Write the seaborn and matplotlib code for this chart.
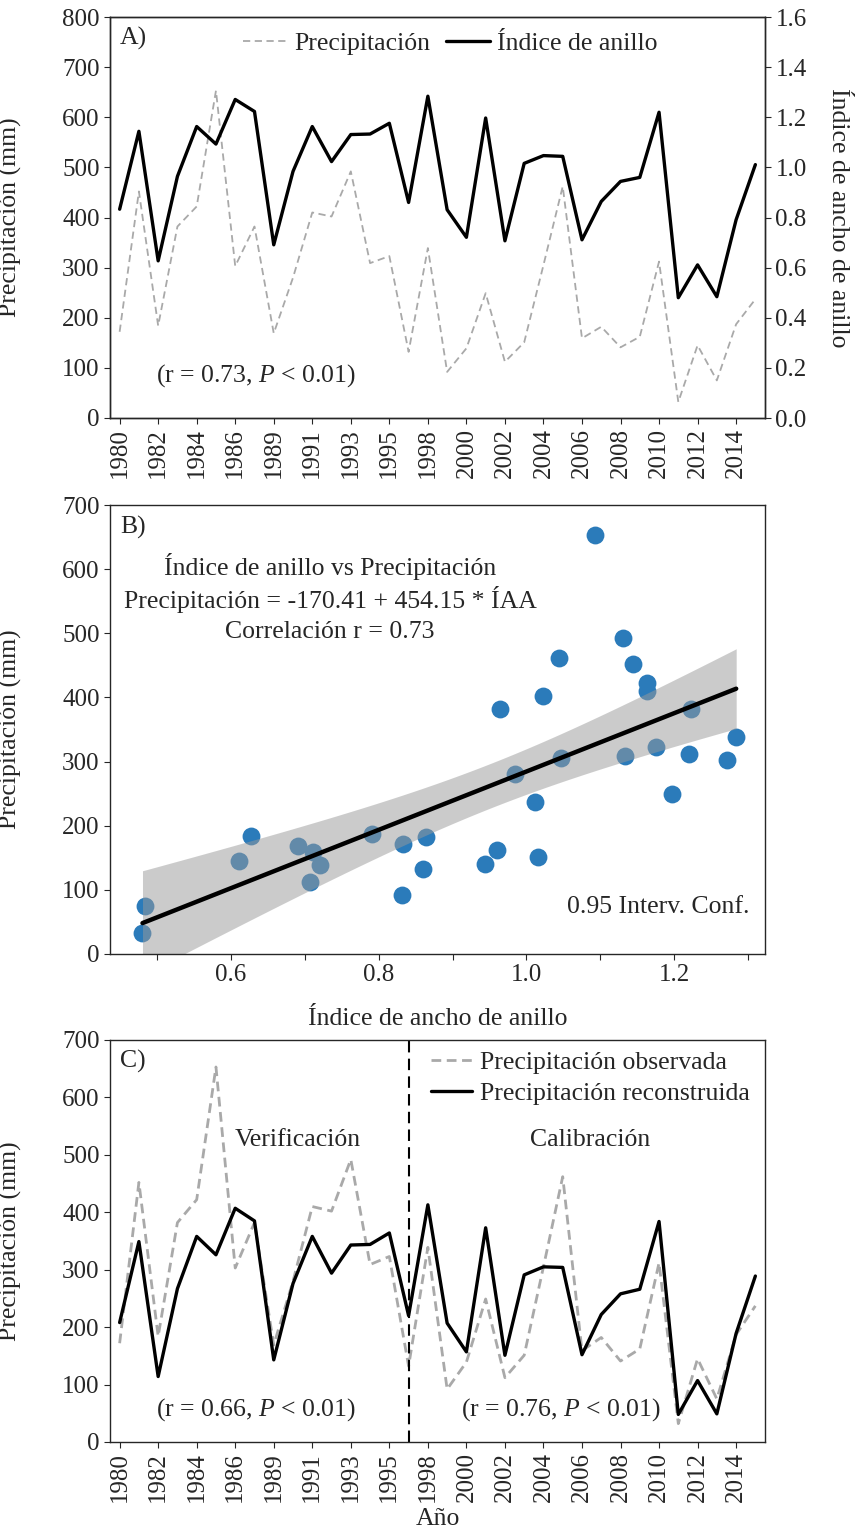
import matplotlib
matplotlib.use("Agg")
import matplotlib.pyplot as plt
from matplotlib.lines import Line2D
import seaborn as sns
import pandas as pd
import numpy as np

# ---- data -------------------------------------------------------------
year_labels = ["1980", "1982", "1984", "1986", "1989", "1991", "1993", "1995",
               "1998", "2000", "2002", "2004", "2006", "2008", "2010", "2012",
               "2014"]

# Ring-width index (ÍAA), one value per year of the series
ring_index = [0.833, 1.144, 0.627, 0.964, 1.163, 1.093, 1.271, 1.223, 0.691,
              0.984, 1.163, 1.023, 1.131, 1.133, 1.176, 0.860, 1.284, 0.831,
              0.721, 1.197, 0.707, 1.016, 1.047, 1.044, 0.711, 0.864, 0.944,
              0.960, 1.220, 0.480, 0.611, 0.484, 0.791, 1.011]

# Observed precipitation (mm)
precip_obs = [172, 452, 184, 382, 422, 653, 303, 382, 169, 280, 410, 402, 492,
              309, 323, 132, 339, 92, 139, 249, 112, 151, 305, 462, 159, 182,
              141, 162, 312, 32, 145, 75, 187, 237]

# Reconstructed precipitation (mm)
precip_rec = [208, 349, 114, 267, 358, 326, 407, 385, 143, 276, 358, 294, 343,
              344, 364, 220, 413, 207, 157, 373, 151, 291, 305, 304, 152, 222,
              258, 266, 384, 48, 107, 49, 189, 289]

split_pos = 15          # boundary between verification and calibration periods
T_975 = 2.037           # Student t quantile, 0.975, 32 d.f.

# ---- style ------------------------------------------------------------
sns.set_style("ticks")
plt.rcParams["font.family"] = ["Liberation Serif", "DejaVu Serif"]
plt.rcParams["mathtext.fontset"] = "custom"
plt.rcParams["mathtext.rm"] = "Liberation Serif"
plt.rcParams["mathtext.it"] = "Liberation Serif:italic"
plt.rcParams["axes.linewidth"] = 1.0
plt.rcParams["xtick.major.size"] = 4
plt.rcParams["ytick.major.size"] = 4
plt.rcParams["xtick.direction"] = "out"
plt.rcParams["ytick.direction"] = "out"

FS_TICK = 18
FS_LAB = 18.5
GRAY = "#a9a9a9"
BLUE = "#2b7bba"

df = pd.DataFrame({"pos": np.arange(len(ring_index)),
                   "idx": ring_index,
                   "obs": precip_obs,
                   "rec": precip_rec})

W, H = 859, 1533
fig = plt.figure(figsize=(W / 100, H / 100), dpi=100)


def box(left, top, right, bottom):
    return [left / W, 1 - bottom / H, (right - left) / W, (bottom - top) / H]


def year_axis(ax):
    ax.set_xlim(-0.5, 33.5)
    ax.set_xticks(range(0, 34, 2))
    ax.set_xticklabels(year_labels, rotation=90, fontsize=FS_TICK)


# ---- A) time series ---------------------------------------------------
axA = fig.add_axes(box(110, 17, 765, 418))
sns.lineplot(data=df, x="pos", y="obs", ax=axA, color=GRAY, lw=1.3)
axA.lines[-1].set_dashes([4, 2.5])
axA.set_ylim(0, 800)
axA.set_yticks(range(0, 801, 100))
axA.tick_params(labelsize=FS_TICK)
year_axis(axA)
axA.set_xlabel("")
axA.set_ylabel("Precipitación (mm)", fontsize=FS_LAB)
axA.yaxis.set_label_coords(-0.135, 0.5)

axA2 = axA.twinx()
sns.lineplot(data=df, x="pos", y="idx", ax=axA2, color="black", lw=2.4)
axA2.set_ylim(0, 1.6)
axA2.set_yticks(np.arange(0, 1.61, 0.2))
axA2.set_yticklabels([f"{v:.1f}" for v in np.arange(0, 1.61, 0.2)])
axA2.tick_params(labelsize=FS_TICK)
axA2.set_ylabel("Índice de ancho de anillo", fontsize=FS_LAB, rotation=270,
                va="center")
axA2.yaxis.set_label_coords(1.112, 0.5)
year_axis(axA2)
axA2.set_xlabel("")

axA2.text(0.015, 0.975, "A)", transform=axA2.transAxes, fontsize=FS_LAB,
          va="top", ha="left")
axA2.text(7.1, 84 / 800 * 1.6, "(r = 0.73, $P$ < 0.01)", fontsize=FS_LAB,
          ha="center", va="center")
handlesA = [Line2D([], [], color=GRAY, lw=1.3, dashes=[4, 2.5]),
            Line2D([], [], color="black", lw=2.4)]
axA2.legend(handlesA, ["Precipitación", "Índice de anillo"], ncol=2,
            frameon=False, fontsize=FS_LAB, loc="center",
            bbox_to_anchor=(0.52, 0.935), handlelength=1.7,
            handletextpad=0.3, columnspacing=0.6)

# ---- B) regression ----------------------------------------------------
axB = fig.add_axes(box(110, 505, 765, 954))
sns.regplot(x=ring_index, y=precip_obs, ax=axB, ci=None, color="black",
            scatter_kws={"s": 165, "color": BLUE, "alpha": 1,
                         "linewidths": 0, "zorder": 1},
            line_kws={"lw": 3.2, "zorder": 3})

# 95 % confidence band of the fitted line
xv = np.asarray(ring_index)
yv = np.asarray(precip_obs, dtype=float)
slope, intercept = np.polyfit(xv, yv, 1)
resid = yv - (intercept + slope * xv)
s_err = np.sqrt(np.sum(resid ** 2) / (len(xv) - 2))
grid = np.linspace(xv.min(), xv.max(), 200)
se_fit = s_err * np.sqrt(1 / len(xv) +
                         (grid - xv.mean()) ** 2 / np.sum((xv - xv.mean()) ** 2))
fit = intercept + slope * grid
axB.fill_between(grid, fit - T_975 * se_fit, fit + T_975 * se_fit,
                 color=(0.6, 0.6, 0.6), alpha=0.5, lw=0, zorder=2)

axB.set_xlim(0.436, 1.323)
axB.set_ylim(0, 700)
axB.set_yticks(range(0, 701, 100))
xt = np.round(np.arange(0.5, 1.31, 0.1), 1)
axB.set_xticks(xt)
axB.set_xticklabels([f"{v:.1f}" if round(v * 10) % 2 == 0 else "" for v in xt])
axB.tick_params(labelsize=FS_TICK)
axB.set_xlabel("Índice de ancho de anillo", fontsize=FS_LAB)
axB.xaxis.set_label_coords(0.5, -0.12)
axB.set_ylabel("Precipitación (mm)", fontsize=FS_LAB)
axB.yaxis.set_label_coords(-0.135, 0.5)
axB.text(0.015, 0.975, "B)", transform=axB.transAxes, fontsize=FS_LAB,
         va="top", ha="left")
axB.text(0.336, 0.862, "Índice de anillo vs Precipitación",
         transform=axB.transAxes, fontsize=FS_LAB, ha="center", va="center")
axB.text(0.336, 0.789, "Precipitación = -170.41 + 454.15 * ÍAA",
         transform=axB.transAxes, fontsize=FS_LAB, ha="center", va="center")
axB.text(0.336, 0.717, "Correlación r = 0.73",
         transform=axB.transAxes, fontsize=FS_LAB, ha="center", va="center")
axB.text(0.977, 0.105, "0.95 Interv. Conf.", transform=axB.transAxes,
         fontsize=FS_LAB, ha="right", va="center")

# ---- C) reconstruction ------------------------------------------------
axC = fig.add_axes(box(110, 1040, 765, 1442))
sns.lineplot(data=df, x="pos", y="obs", ax=axC, color=GRAY, lw=2.0)
axC.lines[-1].set_dashes([3.5, 2])
sns.lineplot(data=df, x="pos", y="rec", ax=axC, color="black", lw=2.4)
axC.axvline(split_pos, color="black", lw=1.5, dashes=[5.5, 3])
axC.set_ylim(0, 700)
axC.set_yticks(range(0, 701, 100))
axC.tick_params(labelsize=FS_TICK)
year_axis(axC)
axC.set_xlabel("Año", fontsize=FS_LAB)
axC.xaxis.set_label_coords(0.5, -0.163)
axC.set_ylabel("Precipitación (mm)", fontsize=FS_LAB)
axC.yaxis.set_label_coords(-0.135, 0.5)
axC.text(0.015, 0.975, "C)", transform=axC.transAxes, fontsize=FS_LAB,
         va="top", ha="left")
axC.text(9.25, 526, "Verificación", fontsize=FS_LAB, ha="center", va="center")
axC.text(24.4, 526, "Calibración", fontsize=FS_LAB, ha="center", va="center")
axC.text(7.1, 56, "(r = 0.66, $P$ < 0.01)", fontsize=FS_LAB, ha="center",
         va="center")
axC.text(22.9, 56, "(r = 0.76, $P$ < 0.01)", fontsize=FS_LAB, ha="center",
         va="center")
handlesC = [Line2D([], [], color=GRAY, lw=2.0, dashes=[3.5, 2]),
            Line2D([], [], color="black", lw=2.4)]
axC.legend(handlesC, ["Precipitación observada", "Precipitación reconstruida"],
           frameon=False, fontsize=FS_LAB, loc="upper right",
           bbox_to_anchor=(1.012, 1.03), handlelength=1.6,
           handletextpad=0.3, labelspacing=0.3)

fig.savefig("out.png", dpi=100)
